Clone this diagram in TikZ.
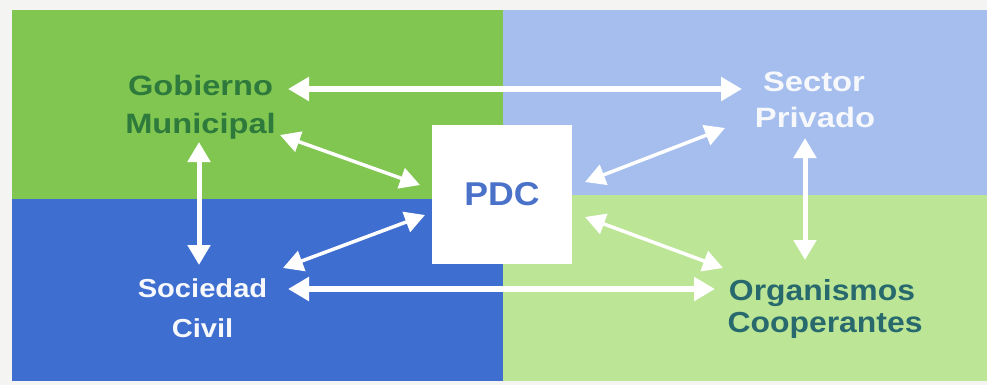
\documentclass[tikz,border=0pt]{standalone}
\usepackage{fontspec}
\setmainfont{Liberation Sans}
\usepackage{graphicx}
\usetikzlibrary{arrows.meta}
\definecolor{bgc}{RGB}{244,244,242}
\definecolor{qTL}{RGB}{128,198,80}
\definecolor{qTR}{RGB}{165,190,238}
\definecolor{qBL}{RGB}{62,110,208}
\definecolor{qBR}{RGB}{188,230,150}
\definecolor{txtGreen}{RGB}{46,122,60}
\definecolor{txtTeal}{RGB}{40,105,110}
\definecolor{txtBlue}{RGB}{74,114,200}
\definecolor{txtWhite}{RGB}{246,248,252}
\newcommand\lbltext[3]{\scalebox{#1}[1]{\fontsize{#2}{#2}\selectfont\bfseries #3}}
\begin{document}
\begin{tikzpicture}[x=1pt,y=-1pt,
  lbl/.style={anchor=base, inner sep=0pt, outer sep=0pt},
  thick link/.style={draw=white, line width=6pt,
     {Triangle[length=21pt,width=23pt]}-{Triangle[length=21pt,width=23pt]}},
  vert link/.style={draw=white, line width=5pt,
     {Triangle[length=20pt,width=22pt]}-{Triangle[length=20pt,width=22pt]}},
  thin link/.style={draw=white, line width=3.5pt,
     {Triangle[length=20pt,width=21pt]}-{Triangle[length=20pt,width=21pt]}}]
\useasboundingbox (0,0) rectangle (987,385);
% background and quadrants
\fill[bgc] (0,0) rectangle (987,385);
\fill[qTL] (12,10) rectangle (503,199);
\fill[qBL] (12,199) rectangle (503,381);
\fill[qTR] (503,10) rectangle (987,195);
\fill[qBR] (503,195) rectangle (987,381);
% central box
\node[fill=white, minimum width=140pt, minimum height=139pt, inner sep=0pt, text=txtBlue] (pdc) at (502,194.5) {\lbltext{1.08}{33}{PDC}};
% labels
\node[lbl, text=txtGreen] (gob1) at (200.5,96) {\lbltext{1.165}{28}{Gobierno}};
\node[lbl, text=txtGreen] (gob2) at (200.5,133) {\lbltext{1.165}{28}{Municipal}};
\node[lbl, text=txtWhite] (sec1) at (814,92) {\lbltext{1.17}{28}{Sector}};
\node[lbl, text=txtWhite] (sec2) at (815,128) {\lbltext{1.17}{28}{Privado}};
\node[lbl, text=txtWhite] (soc1) at (202.5,297) {\lbltext{1.12}{26}{Sociedad}};
\node[lbl, text=txtWhite] (soc2) at (202.5,337) {\lbltext{1.12}{26}{Civil}};
\node[lbl, text=txtTeal] (org1) at (822,300) {\lbltext{1.1}{29}{Organismos}};
\node[lbl, text=txtTeal] (org2) at (825,332) {\lbltext{1.1}{29}{Cooperantes}};
% connector end points
\coordinate (gobE) at (288,89);
\coordinate (secW) at (742,89);
\coordinate (gobSE) at (280,135);
\coordinate (pdcNW) at (420,185);
\coordinate (secSW) at (725,128);
\coordinate (pdcNE) at (585,182);
\coordinate (gobS) at (199,142);
\coordinate (socN) at (199,265);
\coordinate (secS) at (805,138);
\coordinate (orgN) at (805,260);
\coordinate (socNE) at (283,268);
\coordinate (pdcSW) at (425,215);
\coordinate (pdcSE) at (585,217);
\coordinate (orgNW) at (723,268);
\coordinate (socE) at (288,289);
\coordinate (orgW) at (715,289);
% connectors
\draw[thick link] (gobE) -- (secW);
\draw[thick link] (socE) -- (orgW);
\draw[vert link] (gobS) -- (socN);
\draw[vert link] (secS) -- (orgN);
\draw[thin link] (gobSE) -- (pdcNW);
\draw[thin link] (secSW) -- (pdcNE);
\draw[thin link] (socNE) -- (pdcSW);
\draw[thin link] (pdcSE) -- (orgNW);
\end{tikzpicture}
\end{document}
